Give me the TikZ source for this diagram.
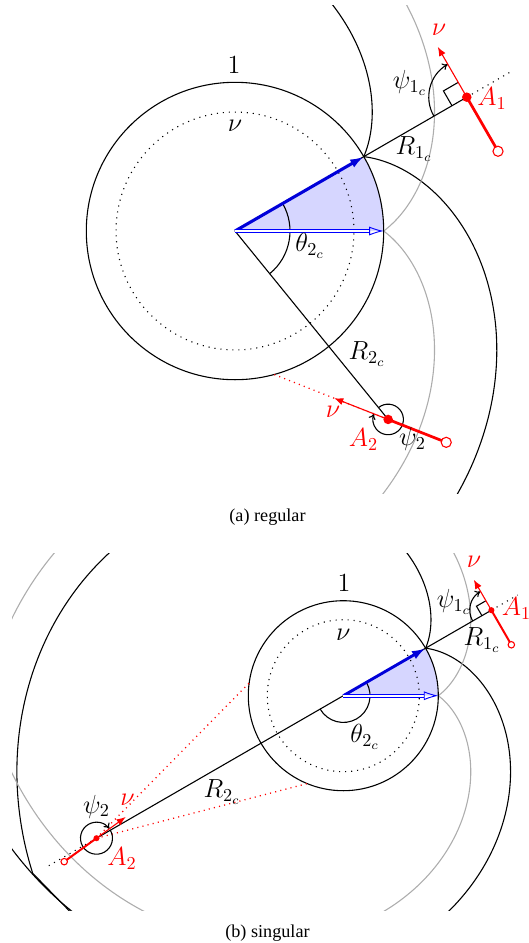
\documentclass[tikz,border=0pt]{standalone}
\usepackage{fontspec}
\setmainfont{Liberation Serif}
\usetikzlibrary{arrows.meta,calc}
\begin{document}
\begin{tikzpicture}[x=0.55pt,y=-0.55pt,
  lbl/.style={font=\fontsize{14}{16}\selectfont, inner sep=0pt},
  rlbl/.style={lbl, text=red},
  captext/.style={font=\fontsize{10}{12}\selectfont, inner sep=0pt},
  ln/.style={line width=0.6pt},
  ginv/.style={line width=0.6pt, black!32},
  dotc/.style={line width=0.6pt, dash pattern=on 0.6pt off 2.7pt},
  rdot/.style={line width=0.7pt, red, dash pattern=on 0.6pt off 2.3pt},
  nuarrow/.style={red, line width=0.6pt, -{Latex[length=5pt,width=4pt]}},
  angarrow/.style={line width=0.6pt, -{To[length=3pt,width=4pt]}},
  barrow/.style={blue!85!black, -{Latex[length=7.5pt,width=5pt]}},
  harrow/.style={blue, double, double distance=1pt, line width=0.5pt, -{Latex[open,length=8pt,width=5pt]}},
  sa/.style={shift={(235,231)}, x=81.785pt, y=81.785pt},
  sb/.style={shift={(343.3,695.7)}, x=52.25pt, y=52.25pt}
]
\useasboundingbox (0,0) rectangle (529,943);

% ================= (a) regular =================
\begin{scope}
\clip (0,5) rectangle (529,493);
\begin{scope}[sa]
\draw[ln] plot[domain=0.75:2.5, samples=120, variable=\t] ({0.8*(cos(23.9+deg(\t))+\t*sin(23.9+deg(\t)))}, {0.8*(sin(23.9+deg(\t))-\t*cos(23.9+deg(\t)))});
\draw[ln] plot[domain=0.75:3, samples=120, variable=\t] ({0.8*(cos(36.1-deg(\t))-\t*sin(36.1-deg(\t)))}, {0.8*(sin(36.1-deg(\t))+\t*cos(36.1-deg(\t)))});
\draw[ginv] plot[domain=0.75:2.5, samples=120, variable=\t] ({0.8*(cos(-6.1+deg(\t))+\t*sin(-6.1+deg(\t)))}, {0.8*(sin(-6.1+deg(\t))-\t*cos(-6.1+deg(\t)))});
\draw[ginv] plot[domain=0.75:3, samples=120, variable=\t] ({0.8*(cos(6.1-deg(\t))-\t*sin(6.1-deg(\t)))}, {0.8*(sin(6.1-deg(\t))+\t*cos(6.1-deg(\t)))});
\end{scope}
\end{scope}

\begin{scope}[sa]
\coordinate (Oa) at (0,0);
\coordinate (Pa) at (30:1);
\coordinate (Qa) at (1,0);
\coordinate (A1a) at (30:1.8);
\coordinate (A2a) at (-50.9:1.633);
\coordinate (E1a) at (30:2.15);
\coordinate (T2a) at ($(A2a)+(158.5:0.826)$);
\fill[blue!16] (Oa) -- (Qa) arc[start angle=0, end angle=30, radius=1] -- cycle;
\draw[ln] (Oa) circle[radius=1];
\draw[dotc] (Oa) circle[radius=0.8];
\draw[ln] (Oa) -- (A1a);
\draw[dotc] (A1a) -- (E1a);
\draw[ln] (Oa) -- (A2a);
\draw[ln] (30:30.25pt) arc[start angle=30, end angle=-50.9, radius=30.25pt];
\draw[barrow, line width=1.7pt] (Oa) -- (Pa);
\draw[harrow] (Oa) -- (Qa);
% A1
\draw[ln] ($(A1a)+(210:0.115)$) -- ++(120:0.115) -- ($(A1a)+(120:0.115)$);
\draw[angarrow] ($(A1a)+(210:20.9pt)$) arc[start angle=210, end angle=120, radius=20.9pt];
\draw[nuarrow] (A1a) -- ++(120:0.39);
\draw[red, line width=1.5pt] (A1a) -- ++(-60:0.42) coordinate (H1a);
\draw[red, line width=0.6pt, fill=white] (H1a) circle[radius=0.034];
\fill[red] (A1a) circle[radius=0.032];
% A2
\draw[rdot] (A2a) -- (T2a);
\draw[angarrow] ($(A2a)+(129.1:8.4pt)$) arc[start angle=129.1, end angle=-201.5, radius=8.4pt];
\draw[nuarrow] (A2a) -- ++(158.5:0.39);
\draw[red, line width=1.5pt] (A2a) -- ++(-21.5:0.42) coordinate (H2a);
\draw[red, line width=0.6pt, fill=white] (H2a) circle[radius=0.034];
\fill[red] (A2a) circle[radius=0.032];
\end{scope}

\node[lbl] (one_a) at (234,65) {$1$};
\node[lbl] (nu_a) at (235,125.5) {$\nu$};
\node[lbl] (th_a) at (310,246) {$\theta_{2_c}$};
\node[lbl] (psi1_a) at (410,83) {$\psi_{1_c}$};
\node[lbl] (R1_a) at (414,149) {$R_{1_c}$};
\node[rlbl] (A1l_a) at (492,99) {$A_1$};
\node[rlbl] (nu1_a) at (439,30) {$\nu$};
\node[lbl] (R2_a) at (367,354) {$R_{2_c}$};
\node[rlbl] (nu2_a) at (333,411.5) {$\nu$};
\node[rlbl] (A2l_a) at (363.5,440) {$A_2$};
\node[lbl] (psi2_a) at (412.5,439) {$\psi_2$};
\node[captext] (cap_a) at (267.5,517) {(a) regular};

% ================= (b) singular =================
\begin{scope}
\clip (12,553) rectangle (529,910);
\begin{scope}[sb]
\draw[ln] plot[domain=0.75:4.603, samples=200, variable=\t] ({0.8*(cos(23.9+deg(\t))+\t*sin(23.9+deg(\t)))}, {0.8*(sin(23.9+deg(\t))-\t*cos(23.9+deg(\t)))}) -- ++(-45.8:1.2);
\draw[ln] plot[domain=0.75:4.8, samples=200, variable=\t] ({0.8*(cos(36.1-deg(\t))-\t*sin(36.1-deg(\t)))}, {0.8*(sin(36.1-deg(\t))+\t*cos(36.1-deg(\t)))});
\draw[ginv] plot[domain=0.75:4.8, samples=200, variable=\t] ({0.8*(cos(-6.1+deg(\t))+\t*sin(-6.1+deg(\t)))}, {0.8*(sin(-6.1+deg(\t))-\t*cos(-6.1+deg(\t)))});
\draw[ginv] plot[domain=0.75:4.8, samples=200, variable=\t] ({0.8*(cos(6.1-deg(\t))-\t*sin(6.1-deg(\t)))}, {0.8*(sin(6.1-deg(\t))+\t*cos(6.1-deg(\t)))});
\end{scope}
\end{scope}

\begin{scope}[sb]
\coordinate (Ob) at (0,0);
\coordinate (Pb) at (30:1);
\coordinate (Qb) at (1,0);
\coordinate (A1b) at (30:1.8);
\coordinate (A2b) at (210:3);
\coordinate (E1b) at (30:2.12);
\coordinate (E2b) at (210:3.59);
\coordinate (T1b) at ($(A2b)+(45.47:2.293)$);
\coordinate (T2b) at ($(A2b)+(14.53:2.293)$);
\fill[blue!16] (Ob) -- (Qb) arc[start angle=0, end angle=30, radius=1] -- cycle;
\draw[ln] (Ob) circle[radius=1];
\draw[dotc] (Ob) circle[radius=0.8];
\draw[ln] (A2b) -- (A1b);
\draw[dotc] (A1b) -- (E1b);
\draw[dotc] (A2b) -- (E2b);
\draw[rdot] (A2b) -- (T1b);
\draw[rdot] (A2b) -- (T2b);
\draw[ln] (30:14.7pt) arc[start angle=30, end angle=-150, radius=14.7pt];
\draw[barrow, line width=1.6pt] (Ob) -- (Pb);
\draw[harrow] (Ob) -- (Qb);
% A1
\draw[ln] ($(A1b)+(210:0.115)$) -- ++(120:0.115) -- ($(A1b)+(120:0.115)$);
\draw[angarrow] ($(A1b)+(210:11.9pt)$) arc[start angle=210, end angle=120, radius=11.9pt];
\draw[nuarrow] (A1b) -- ++(120:0.37);
\draw[red, line width=1.1pt] (A1b) -- ++(-60:0.42) coordinate (H1b);
\draw[red, line width=0.6pt, fill=white] (H1b) circle[radius=0.034];
\fill[red] (A1b) circle[radius=0.032];
% A2
\draw[angarrow] ($(A2b)+(30:8.8pt)$) arc[start angle=30, end angle=-324, radius=8.8pt];
\draw[nuarrow] (A2b) -- ++(36:0.38);
\draw[red, line width=1.1pt] (A2b) -- ++(216:0.42) coordinate (H2b);
\draw[red, line width=0.6pt, fill=white] (H2b) circle[radius=0.034];
\fill[red] (A2b) circle[radius=0.032];
\end{scope}

\node[lbl] (one_b) at (344,583) {$1$};
\node[lbl] (nu_b) at (343.3,635) {$\nu$};
\node[lbl] (th_b) at (365,737) {$\theta_{2_c}$};
\node[lbl] (psi1_b) at (454,602) {$\psi_{1_c}$};
\node[lbl] (R1_b) at (482,640) {$R_{1_c}$};
\node[rlbl, anchor=west] (A1l_b) at (501.5,609) {$A_1$};
\node[rlbl] (nu1_b) at (474,561.5) {$\nu$};
\node[lbl] (R2_b) at (222,792) {$R_{2_c}$};
\node[lbl] (psi2_b) at (96.5,806.5) {$\psi_2$};
\node[rlbl] (nu2_b) at (127.5,800) {$\nu$};
\node[rlbl] (A2l_b) at (122,859) {$A_2$};
\node[captext] (cap_b) at (267.5,933) {(b) singular};
\end{tikzpicture}
\end{document}
